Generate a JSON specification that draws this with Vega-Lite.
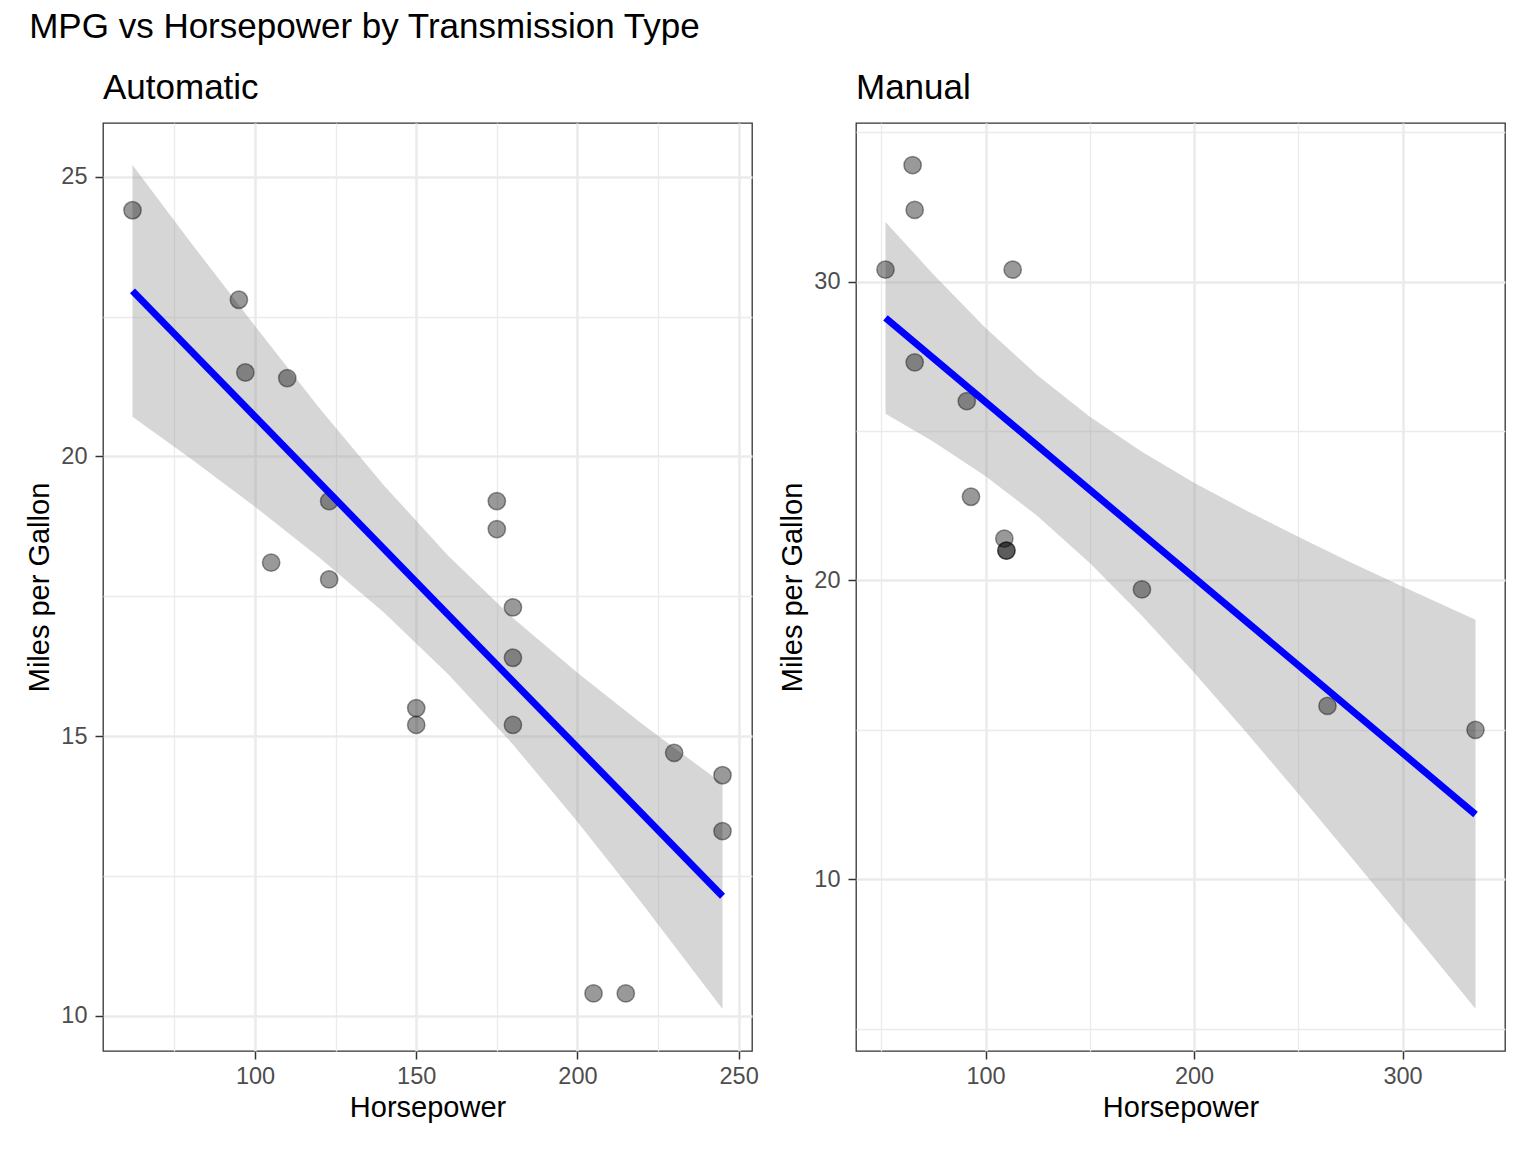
{
  "$schema": "https://vega.github.io/schema/vega-lite/v6.json",
  "padding": {"left": 25, "top": 10, "right": 0, "bottom": 0},
  "title": {"text": "MPG vs Horsepower by Transmission Type", "anchor": "start", "fontSize": 35, "fontWeight": "normal", "color": "black", "offset": 25, "dx": 4},
  "datasets": {
    "cars": [
      {"hp": 110, "mpg": 21.4, "am": "Automatic"},
      {"hp": 175, "mpg": 18.7, "am": "Automatic"},
      {"hp": 105, "mpg": 18.1, "am": "Automatic"},
      {"hp": 245, "mpg": 14.3, "am": "Automatic"},
      {"hp": 62, "mpg": 24.4, "am": "Automatic"},
      {"hp": 95, "mpg": 22.8, "am": "Automatic"},
      {"hp": 123, "mpg": 19.2, "am": "Automatic"},
      {"hp": 123, "mpg": 17.8, "am": "Automatic"},
      {"hp": 180, "mpg": 16.4, "am": "Automatic"},
      {"hp": 180, "mpg": 17.3, "am": "Automatic"},
      {"hp": 180, "mpg": 15.2, "am": "Automatic"},
      {"hp": 205, "mpg": 10.4, "am": "Automatic"},
      {"hp": 215, "mpg": 10.4, "am": "Automatic"},
      {"hp": 230, "mpg": 14.7, "am": "Automatic"},
      {"hp": 97, "mpg": 21.5, "am": "Automatic"},
      {"hp": 150, "mpg": 15.5, "am": "Automatic"},
      {"hp": 150, "mpg": 15.2, "am": "Automatic"},
      {"hp": 245, "mpg": 13.3, "am": "Automatic"},
      {"hp": 175, "mpg": 19.2, "am": "Automatic"},
      {"hp": 110, "mpg": 21.0, "am": "Manual"},
      {"hp": 110, "mpg": 21.0, "am": "Manual"},
      {"hp": 93, "mpg": 22.8, "am": "Manual"},
      {"hp": 66, "mpg": 32.4, "am": "Manual"},
      {"hp": 52, "mpg": 30.4, "am": "Manual"},
      {"hp": 65, "mpg": 33.9, "am": "Manual"},
      {"hp": 66, "mpg": 27.3, "am": "Manual"},
      {"hp": 91, "mpg": 26.0, "am": "Manual"},
      {"hp": 113, "mpg": 30.4, "am": "Manual"},
      {"hp": 264, "mpg": 15.8, "am": "Manual"},
      {"hp": 175, "mpg": 19.7, "am": "Manual"},
      {"hp": 335, "mpg": 15.0, "am": "Manual"},
      {"hp": 109, "mpg": 21.4, "am": "Manual"}
    ],
    "band": [
      {"hp": 62, "lo": 20.71, "hi": 25.21, "am": "Automatic"},
      {"hp": 80, "lo": 19.96, "hi": 23.83, "am": "Automatic"},
      {"hp": 100, "lo": 19.10, "hi": 22.33, "am": "Automatic"},
      {"hp": 120, "lo": 18.19, "hi": 20.86, "am": "Automatic"},
      {"hp": 140, "lo": 17.21, "hi": 19.48, "am": "Automatic"},
      {"hp": 160, "lo": 16.10, "hi": 18.22, "am": "Automatic"},
      {"hp": 180, "lo": 14.85, "hi": 17.11, "am": "Automatic"},
      {"hp": 200, "lo": 13.47, "hi": 16.13, "am": "Automatic"},
      {"hp": 220, "lo": 12.01, "hi": 15.22, "am": "Automatic"},
      {"hp": 245, "lo": 10.12, "hi": 14.15, "am": "Automatic"},
      {"hp": 52, "lo": 25.58, "hi": 32.00, "am": "Manual"},
      {"hp": 75, "lo": 24.64, "hi": 30.24, "am": "Manual"},
      {"hp": 100, "lo": 23.49, "hi": 28.45, "am": "Manual"},
      {"hp": 125, "lo": 22.15, "hi": 26.86, "am": "Manual"},
      {"hp": 150, "lo": 20.58, "hi": 25.48, "am": "Manual"},
      {"hp": 175, "lo": 18.82, "hi": 24.31, "am": "Manual"},
      {"hp": 200, "lo": 16.92, "hi": 23.27, "am": "Manual"},
      {"hp": 225, "lo": 14.92, "hi": 22.34, "am": "Manual"},
      {"hp": 250, "lo": 12.86, "hi": 21.46, "am": "Manual"},
      {"hp": 275, "lo": 10.77, "hi": 20.61, "am": "Manual"},
      {"hp": 300, "lo": 8.65, "hi": 19.80, "am": "Manual"},
      {"hp": 335, "lo": 5.66, "hi": 18.68, "am": "Manual"}
    ]
  },
  "spacing": 19,
  "hconcat": [
    {
      "width": 649,
      "height": 928,
      "title": {"text": "Automatic", "anchor": "start", "frame": "group", "fontSize": 35, "fontWeight": "normal", "color": "black", "offset": 17},
      "layer": [
        {
          "data": {"name": "band"},
          "transform": [{"filter": "datum.am === 'Automatic'"}],
          "mark": {"type": "area", "color": "#999999", "opacity": 0.4},
          "encoding": {
            "x": {"field": "hp", "type": "quantitative", "scale": {"domain": [52.85, 254.15], "nice": false, "zero": false}, "axis": {"title": "Horsepower", "values": [100, 150, 200, 250], "grid": true}},
            "y": {"field": "lo", "type": "quantitative", "scale": {"domain": [9.37, 25.96], "nice": false, "zero": false}, "axis": {"title": "Miles per Gallon", "values": [10, 15, 20, 25], "grid": true, "labelPadding": 8}},
            "y2": {"field": "hi"}
          }
        },
        {
          "data": {"name": "cars"},
          "transform": [{"filter": "datum.am === 'Automatic'"}],
          "mark": {"type": "circle", "fill": "black", "stroke": "black", "fillOpacity": 0.4, "strokeOpacity": 0.4, "strokeWidth": 1.5, "size": 300},
          "encoding": {
            "x": {"field": "hp", "type": "quantitative", "axis": {"title": null, "orient": "bottom", "values": [75, 125, 175, 225], "grid": true, "labels": false, "ticks": false, "domain": false, "gridWidth": 1.3}},
            "y": {"field": "mpg", "type": "quantitative", "axis": {"title": null, "orient": "left", "values": [12.5, 17.5, 22.5], "grid": true, "labels": false, "ticks": false, "domain": false, "gridWidth": 1.3}}
          }
        },
        {
          "data": {"name": "cars"},
          "transform": [{"filter": "datum.am === 'Automatic'"}, {"regression": "mpg", "on": "hp"}],
          "mark": {"type": "line", "color": "#0000ff", "strokeWidth": 7},
          "encoding": {
            "x": {"field": "hp", "type": "quantitative", "axis": null},
            "y": {"field": "mpg", "type": "quantitative", "axis": null}
          }
        }
      ],
      "resolve": {"axis": {"x": "independent", "y": "independent"}}
    },
    {
      "width": 649,
      "height": 928,
      "title": {"text": "Manual", "anchor": "start", "frame": "group", "fontSize": 35, "fontWeight": "normal", "color": "black", "offset": 17},
      "layer": [
        {
          "data": {"name": "band"},
          "transform": [{"filter": "datum.am === 'Manual'"}],
          "mark": {"type": "area", "color": "#999999", "opacity": 0.4},
          "encoding": {
            "x": {"field": "hp", "type": "quantitative", "scale": {"domain": [37.85, 349.15], "nice": false, "zero": false}, "axis": {"title": "Horsepower", "values": [100, 200, 300], "grid": true}},
            "y": {"field": "lo", "type": "quantitative", "scale": {"domain": [4.25, 35.31], "nice": false, "zero": false}, "axis": {"title": "Miles per Gallon", "values": [10, 20, 30], "grid": true, "labelPadding": 8}},
            "y2": {"field": "hi"}
          }
        },
        {
          "data": {"name": "cars"},
          "transform": [{"filter": "datum.am === 'Manual'"}],
          "mark": {"type": "circle", "fill": "black", "stroke": "black", "fillOpacity": 0.4, "strokeOpacity": 0.4, "strokeWidth": 1.5, "size": 300},
          "encoding": {
            "x": {"field": "hp", "type": "quantitative", "axis": {"title": null, "orient": "bottom", "values": [50, 150, 250], "grid": true, "labels": false, "ticks": false, "domain": false, "gridWidth": 1.3}},
            "y": {"field": "mpg", "type": "quantitative", "axis": {"title": null, "orient": "left", "values": [5, 15, 25, 35], "grid": true, "labels": false, "ticks": false, "domain": false, "gridWidth": 1.3}}
          }
        },
        {
          "data": {"name": "cars"},
          "transform": [{"filter": "datum.am === 'Manual'"}, {"regression": "mpg", "on": "hp"}],
          "mark": {"type": "line", "color": "#0000ff", "strokeWidth": 7},
          "encoding": {
            "x": {"field": "hp", "type": "quantitative", "axis": null},
            "y": {"field": "mpg", "type": "quantitative", "axis": null}
          }
        }
      ],
      "resolve": {"axis": {"x": "independent", "y": "independent"}}
    }
  ],
  "config": {
    "font": "Liberation Sans",
    "view": {"stroke": "#333333", "strokeWidth": 1.3},
    "axis": {
      "grid": true,
      "gridColor": "#ebebeb",
      "gridWidth": 2.6,
      "domain": false,
      "tickColor": "#333333",
      "tickWidth": 1.5,
      "tickSize": 8,
      "labelFontSize": 23.5,
      "labelColor": "#4d4d4d",
      "labelPadding": 5,
      "titleFontSize": 29,
      "titleFontWeight": "normal",
      "titleColor": "black",
      "titlePadding": 6
    }
  }
}
